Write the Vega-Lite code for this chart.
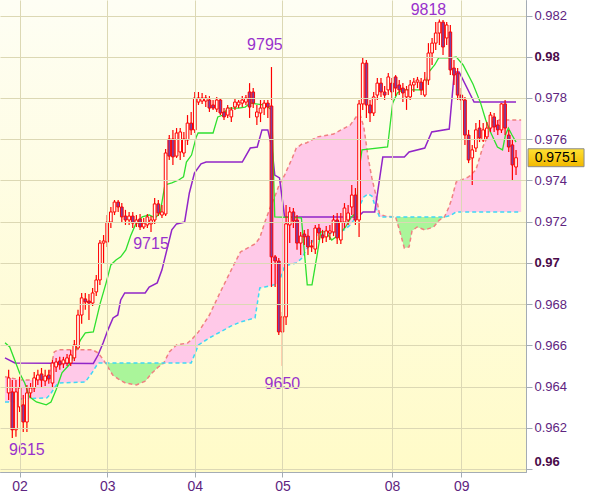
{
  "$schema": "https://vega.github.io/schema/vega-lite/v6.json",
  "width": 526,
  "height": 472,
  "autosize": {"type": "none"},
  "padding": {"left": 0, "top": 0, "right": 74, "bottom": 25},
  "background": "#ffffff",
  "config": {"view": {"stroke": "#a4acb4", "strokeWidth": 1}},
  "datasets": {
    "candles": [
      {"t":1,"o":0.96369,"h":0.96481,"l":0.96335,"c":0.96442},
      {"t":2,"o":0.96374,"h":0.96432,"l":0.96150,"c":0.96190},
      {"t":3,"o":0.96190,"h":0.96432,"l":0.96156,"c":0.96374},
      {"t":4,"o":0.96301,"h":0.96447,"l":0.96277,"c":0.96393},
      {"t":5,"o":0.96311,"h":0.96359,"l":0.96180,"c":0.96228},
      {"t":6,"o":0.96228,"h":0.96408,"l":0.96180,"c":0.96369},
      {"t":7,"o":0.96369,"h":0.96417,"l":0.96345,"c":0.96393},
      {"t":8,"o":0.96393,"h":0.96471,"l":0.96374,"c":0.96442},
      {"t":9,"o":0.96432,"h":0.96481,"l":0.96408,"c":0.96456},
      {"t":10,"o":0.96461,"h":0.96490,"l":0.96393,"c":0.96432},
      {"t":11,"o":0.96427,"h":0.96481,"l":0.96403,"c":0.96451},
      {"t":12,"o":0.96456,"h":0.96481,"l":0.96413,"c":0.96437},
      {"t":13,"o":0.96417,"h":0.96529,"l":0.96393,"c":0.96514},
      {"t":14,"o":0.96495,"h":0.96539,"l":0.96471,"c":0.96519},
      {"t":15,"o":0.96524,"h":0.96544,"l":0.96481,"c":0.96505},
      {"t":16,"o":0.96510,"h":0.96544,"l":0.96490,"c":0.96529},
      {"t":17,"o":0.96514,"h":0.96558,"l":0.96500,"c":0.96539},
      {"t":18,"o":0.96514,"h":0.96578,"l":0.96500,"c":0.96553},
      {"t":19,"o":0.96539,"h":0.96626,"l":0.96524,"c":0.96602},
      {"t":20,"o":0.96587,"h":0.96772,"l":0.96578,"c":0.96747},
      {"t":21,"o":0.96747,"h":0.96854,"l":0.96704,"c":0.96830},
      {"t":22,"o":0.96825,"h":0.96854,"l":0.96772,"c":0.96810},
      {"t":23,"o":0.96815,"h":0.96849,"l":0.96723,"c":0.96805},
      {"t":24,"o":0.96805,"h":0.96878,"l":0.96791,"c":0.96854},
      {"t":25,"o":0.96859,"h":0.96941,"l":0.96839,"c":0.96917},
      {"t":26,"o":0.96917,"h":0.97111,"l":0.96893,"c":0.97096},
      {"t":27,"o":0.97096,"h":0.97135,"l":0.96999,"c":0.97106},
      {"t":28,"o":0.97101,"h":0.97232,"l":0.97077,"c":0.97198},
      {"t":29,"o":0.97198,"h":0.97271,"l":0.97169,"c":0.97247},
      {"t":30,"o":0.97247,"h":0.97305,"l":0.97232,"c":0.97295},
      {"t":31,"o":0.97295,"h":0.97305,"l":0.97247,"c":0.97271},
      {"t":32,"o":0.97271,"h":0.97290,"l":0.97198,"c":0.97223},
      {"t":33,"o":0.97227,"h":0.97257,"l":0.97184,"c":0.97208},
      {"t":34,"o":0.97208,"h":0.97247,"l":0.97184,"c":0.97227},
      {"t":35,"o":0.97227,"h":0.97247,"l":0.97169,"c":0.97193},
      {"t":36,"o":0.97193,"h":0.97232,"l":0.97174,"c":0.97208},
      {"t":37,"o":0.97213,"h":0.97237,"l":0.97160,"c":0.97174},
      {"t":38,"o":0.97174,"h":0.97218,"l":0.97164,"c":0.97193},
      {"t":39,"o":0.97184,"h":0.97237,"l":0.97169,"c":0.97223},
      {"t":40,"o":0.97189,"h":0.97227,"l":0.97150,"c":0.97208},
      {"t":41,"o":0.97208,"h":0.97315,"l":0.97189,"c":0.97286},
      {"t":42,"o":0.97286,"h":0.97305,"l":0.97227,"c":0.97242},
      {"t":43,"o":0.97232,"h":0.97281,"l":0.97218,"c":0.97247},
      {"t":44,"o":0.97237,"h":0.97552,"l":0.97227,"c":0.97533},
      {"t":45,"o":0.97601,"h":0.97620,"l":0.97499,"c":0.97518},
      {"t":46,"o":0.97601,"h":0.97645,"l":0.97475,"c":0.97514},
      {"t":47,"o":0.97518,"h":0.97654,"l":0.97509,"c":0.97630},
      {"t":48,"o":0.97538,"h":0.97654,"l":0.97499,"c":0.97635},
      {"t":49,"o":0.97533,"h":0.97635,"l":0.97514,"c":0.97601},
      {"t":50,"o":0.97596,"h":0.97717,"l":0.97572,"c":0.97678},
      {"t":51,"o":0.97678,"h":0.97732,"l":0.97620,"c":0.97645},
      {"t":52,"o":0.97645,"h":0.97829,"l":0.97630,"c":0.97800},
      {"t":53,"o":0.97780,"h":0.97829,"l":0.97766,"c":0.97800},
      {"t":54,"o":0.97785,"h":0.97824,"l":0.97771,"c":0.97800},
      {"t":55,"o":0.97785,"h":0.97814,"l":0.97756,"c":0.97800},
      {"t":56,"o":0.97790,"h":0.97809,"l":0.97732,"c":0.97751},
      {"t":57,"o":0.97766,"h":0.97790,"l":0.97742,"c":0.97751},
      {"t":58,"o":0.97746,"h":0.97805,"l":0.97732,"c":0.97790},
      {"t":59,"o":0.97790,"h":0.97800,"l":0.97717,"c":0.97727},
      {"t":60,"o":0.97732,"h":0.97751,"l":0.97693,"c":0.97708},
      {"t":61,"o":0.97717,"h":0.97766,"l":0.97703,"c":0.97751},
      {"t":62,"o":0.97708,"h":0.97756,"l":0.97683,"c":0.97742},
      {"t":63,"o":0.97756,"h":0.97800,"l":0.97742,"c":0.97780},
      {"t":64,"o":0.97766,"h":0.97790,"l":0.97751,"c":0.97780},
      {"t":65,"o":0.97775,"h":0.97809,"l":0.97756,"c":0.97790},
      {"t":66,"o":0.97780,"h":0.97814,"l":0.97766,"c":0.97800},
      {"t":67,"o":0.97829,"h":0.97872,"l":0.97703,"c":0.97756},
      {"t":68,"o":0.97829,"h":0.97848,"l":0.97751,"c":0.97775},
      {"t":69,"o":0.97708,"h":0.97766,"l":0.97669,"c":0.97732},
      {"t":70,"o":0.97727,"h":0.97790,"l":0.97683,"c":0.97751},
      {"t":71,"o":0.97751,"h":0.97790,"l":0.97717,"c":0.97775},
      {"t":72,"o":0.97775,"h":0.97790,"l":0.97703,"c":0.97756},
      {"t":73,"o":0.97761,"h":0.97950,"l":0.96883,"c":0.97029},
      {"t":74,"o":0.97029,"h":0.97038,"l":0.96883,"c":0.97009},
      {"t":75,"o":0.97009,"h":0.97024,"l":0.96650,"c":0.96665},
      {"t":76,"o":0.96665,"h":0.96762,"l":0.96500,"c":0.96738},
      {"t":77,"o":0.96738,"h":0.97281,"l":0.96699,"c":0.97189},
      {"t":78,"o":0.97184,"h":0.97271,"l":0.97096,"c":0.97247},
      {"t":79,"o":0.97247,"h":0.97266,"l":0.97169,"c":0.97203},
      {"t":80,"o":0.97208,"h":0.97232,"l":0.97063,"c":0.97096},
      {"t":81,"o":0.97096,"h":0.97150,"l":0.97038,"c":0.97130},
      {"t":82,"o":0.97140,"h":0.97160,"l":0.97087,"c":0.97126},
      {"t":83,"o":0.97130,"h":0.97164,"l":0.97038,"c":0.97077},
      {"t":84,"o":0.97082,"h":0.97111,"l":0.97053,"c":0.97077},
      {"t":85,"o":0.97067,"h":0.97184,"l":0.97043,"c":0.97169},
      {"t":86,"o":0.97169,"h":0.97189,"l":0.97111,"c":0.97145},
      {"t":87,"o":0.97135,"h":0.97160,"l":0.97096,"c":0.97121},
      {"t":88,"o":0.97126,"h":0.97179,"l":0.97101,"c":0.97155},
      {"t":89,"o":0.97145,"h":0.97184,"l":0.97111,"c":0.97155},
      {"t":90,"o":0.97150,"h":0.97232,"l":0.97130,"c":0.97208},
      {"t":91,"o":0.97208,"h":0.97242,"l":0.97092,"c":0.97121},
      {"t":92,"o":0.97111,"h":0.97242,"l":0.97092,"c":0.97198},
      {"t":93,"o":0.97198,"h":0.97290,"l":0.97169,"c":0.97266},
      {"t":94,"o":0.97208,"h":0.97281,"l":0.97184,"c":0.97242},
      {"t":95,"o":0.97271,"h":0.97378,"l":0.97232,"c":0.97329},
      {"t":96,"o":0.97329,"h":0.97363,"l":0.97184,"c":0.97208},
      {"t":97,"o":0.97208,"h":0.97790,"l":0.97126,"c":0.97771},
      {"t":98,"o":0.97771,"h":0.97999,"l":0.97742,"c":0.97969},
      {"t":99,"o":0.97969,"h":0.97984,"l":0.97703,"c":0.97766},
      {"t":100,"o":0.97766,"h":0.97790,"l":0.97683,"c":0.97727},
      {"t":101,"o":0.97727,"h":0.97829,"l":0.97712,"c":0.97805},
      {"t":102,"o":0.97814,"h":0.97897,"l":0.97790,"c":0.97872},
      {"t":103,"o":0.97872,"h":0.97897,"l":0.97805,"c":0.97829},
      {"t":104,"o":0.97829,"h":0.97858,"l":0.97790,"c":0.97814},
      {"t":105,"o":0.97839,"h":0.97921,"l":0.97814,"c":0.97902},
      {"t":106,"o":0.97872,"h":0.97897,"l":0.97790,"c":0.97829},
      {"t":107,"o":0.97902,"h":0.97911,"l":0.97809,"c":0.97848},
      {"t":108,"o":0.97863,"h":0.97887,"l":0.97814,"c":0.97839},
      {"t":109,"o":0.97848,"h":0.97872,"l":0.97780,"c":0.97824},
      {"t":110,"o":0.97805,"h":0.97858,"l":0.97742,"c":0.97839},
      {"t":111,"o":0.97805,"h":0.97887,"l":0.97790,"c":0.97863},
      {"t":112,"o":0.97863,"h":0.97897,"l":0.97829,"c":0.97877},
      {"t":113,"o":0.97877,"h":0.97902,"l":0.97848,"c":0.97887},
      {"t":114,"o":0.97877,"h":0.97897,"l":0.97814,"c":0.97839},
      {"t":115,"o":0.97814,"h":0.97926,"l":0.97805,"c":0.97887},
      {"t":116,"o":0.97887,"h":0.98066,"l":0.97863,"c":0.98018},
      {"t":117,"o":0.98018,"h":0.98091,"l":0.97960,"c":0.98066},
      {"t":118,"o":0.98066,"h":0.98168,"l":0.98033,"c":0.98115},
      {"t":119,"o":0.98115,"h":0.98180,"l":0.98057,"c":0.98168},
      {"t":120,"o":0.98168,"h":0.98178,"l":0.98008,"c":0.98047},
      {"t":121,"o":0.98091,"h":0.98168,"l":0.98057,"c":0.98154},
      {"t":122,"o":0.98120,"h":0.98154,"l":0.97911,"c":0.97936},
      {"t":123,"o":0.97945,"h":0.97984,"l":0.97863,"c":0.97911},
      {"t":124,"o":0.97921,"h":0.97945,"l":0.97790,"c":0.97814},
      {"t":125,"o":0.97814,"h":0.97848,"l":0.97742,"c":0.97790},
      {"t":126,"o":0.97790,"h":0.97805,"l":0.97572,"c":0.97620},
      {"t":127,"o":0.97620,"h":0.97645,"l":0.97484,"c":0.97499},
      {"t":128,"o":0.97509,"h":0.97572,"l":0.97378,"c":0.97548},
      {"t":129,"o":0.97557,"h":0.97678,"l":0.97538,"c":0.97645},
      {"t":130,"o":0.97654,"h":0.97693,"l":0.97586,"c":0.97606},
      {"t":131,"o":0.97596,"h":0.97678,"l":0.97586,"c":0.97645},
      {"t":132,"o":0.97611,"h":0.97683,"l":0.97596,"c":0.97654},
      {"t":133,"o":0.97654,"h":0.97732,"l":0.97635,"c":0.97717},
      {"t":134,"o":0.97708,"h":0.97727,"l":0.97635,"c":0.97659},
      {"t":135,"o":0.97669,"h":0.97693,"l":0.97620,"c":0.97645},
      {"t":136,"o":0.97645,"h":0.97775,"l":0.97630,"c":0.97771},
      {"t":137,"o":0.97771,"h":0.97790,"l":0.97620,"c":0.97654},
      {"t":138,"o":0.97620,"h":0.97645,"l":0.97538,"c":0.97562},
      {"t":139,"o":0.97572,"h":0.97596,"l":0.97402,"c":0.97475},
      {"t":140,"o":0.97465,"h":0.97548,"l":0.97426,"c":0.97510}
    ],
    "cloud": [
      {"t":0,"a":0.96447,"b":0.96325},
      {"t":3,"a":0.96437,"b":0.96325},
      {"t":4.5,"a":0.96432,"b":0.96340},
      {"t":11.5,"a":0.96432,"b":0.96345},
      {"t":12.5,"a":0.96490,"b":0.96364},
      {"t":13.5,"a":0.96568,"b":0.96393},
      {"t":14.5,"a":0.96578,"b":0.96417},
      {"t":22,"a":0.96578,"b":0.96422},
      {"t":24,"a":0.96578,"b":0.96471},
      {"t":25.5,"a":0.96563,"b":0.96514},
      {"t":27,"a":0.96529,"b":0.96514},
      {"t":28,"a":0.96500,"b":0.96514},
      {"t":29.5,"a":0.96456,"b":0.96514},
      {"t":31,"a":0.96437,"b":0.96514},
      {"t":33,"a":0.96417,"b":0.96514},
      {"t":36,"a":0.96408,"b":0.96514},
      {"t":38.5,"a":0.96427,"b":0.96514},
      {"t":40,"a":0.96461,"b":0.96514},
      {"t":42,"a":0.96495,"b":0.96514},
      {"t":43.5,"a":0.96514,"b":0.96514},
      {"t":45,"a":0.96568,"b":0.96514},
      {"t":47,"a":0.96602,"b":0.96514},
      {"t":50,"a":0.96611,"b":0.96514},
      {"t":51,"a":0.96626,"b":0.96514},
      {"t":53,"a":0.96665,"b":0.96602},
      {"t":56,"a":0.96747,"b":0.96636},
      {"t":59,"a":0.96859,"b":0.96665},
      {"t":62,"a":0.96966,"b":0.96694},
      {"t":64.5,"a":0.97053,"b":0.96713},
      {"t":68.5,"a":0.97092,"b":0.96733},
      {"t":69.8,"a":0.97121,"b":0.96878},
      {"t":71.2,"a":0.97198,"b":0.96883},
      {"t":72.6,"a":0.97266,"b":0.96888},
      {"t":74.4,"a":0.97344,"b":0.96898},
      {"t":75,"a":0.97373,"b":0.96902},
      {"t":76.6,"a":0.97426,"b":0.96985},
      {"t":78.7,"a":0.97509,"b":0.96995},
      {"t":79.8,"a":0.97557,"b":0.96999},
      {"t":81.4,"a":0.97577,"b":0.97024},
      {"t":82.5,"a":0.97581,"b":0.97063},
      {"t":85.5,"a":0.97611,"b":0.97135},
      {"t":90,"a":0.97625,"b":0.97145},
      {"t":93,"a":0.97654,"b":0.97160},
      {"t":94.6,"a":0.97669,"b":0.97184},
      {"t":96.2,"a":0.97708,"b":0.97223},
      {"t":97.3,"a":0.97717,"b":0.97281},
      {"t":98.3,"a":0.97659,"b":0.97320},
      {"t":99.5,"a":0.97509,"b":0.97334},
      {"t":100.5,"a":0.97412,"b":0.97324},
      {"t":101.6,"a":0.97329,"b":0.97266},
      {"t":102.6,"a":0.97237,"b":0.97223},
      {"t":104,"a":0.97227,"b":0.97223},
      {"t":107,"a":0.97223,"b":0.97223},
      {"t":108.3,"a":0.97145,"b":0.97223},
      {"t":109.4,"a":0.97072,"b":0.97223},
      {"t":110.7,"a":0.97077,"b":0.97223},
      {"t":111.5,"a":0.97155,"b":0.97223},
      {"t":112.9,"a":0.97174,"b":0.97223},
      {"t":115,"a":0.97160,"b":0.97223},
      {"t":117.4,"a":0.97174,"b":0.97223},
      {"t":119,"a":0.97208,"b":0.97223},
      {"t":120.4,"a":0.97223,"b":0.97223},
      {"t":121.5,"a":0.97266,"b":0.97227},
      {"t":122.3,"a":0.97305,"b":0.97232},
      {"t":123.6,"a":0.97392,"b":0.97247},
      {"t":127,"a":0.97417,"b":0.97247},
      {"t":129,"a":0.97451,"b":0.97247},
      {"t":130.9,"a":0.97562,"b":0.97247},
      {"t":132.2,"a":0.97615,"b":0.97247},
      {"t":133,"a":0.97678,"b":0.97247},
      {"t":134.4,"a":0.97693,"b":0.97247},
      {"t":141.4,"a":0.97693,"b":0.97247}
    ],
    "green": [
      {"seg":1,"t":27.3,"a":0.96514,"b":0.96514},
      {"seg":1,"t":28,"a":0.96500,"b":0.96514},
      {"seg":1,"t":29.5,"a":0.96456,"b":0.96514},
      {"seg":1,"t":31,"a":0.96437,"b":0.96514},
      {"seg":1,"t":33,"a":0.96417,"b":0.96514},
      {"seg":1,"t":36,"a":0.96408,"b":0.96514},
      {"seg":1,"t":38.5,"a":0.96427,"b":0.96514},
      {"seg":1,"t":40,"a":0.96461,"b":0.96514},
      {"seg":1,"t":42,"a":0.96495,"b":0.96514},
      {"seg":1,"t":43.5,"a":0.96514,"b":0.96514},
      {"seg":2,"t":107,"a":0.97223,"b":0.97223},
      {"seg":2,"t":108.3,"a":0.97145,"b":0.97223},
      {"seg":2,"t":109.4,"a":0.97072,"b":0.97223},
      {"seg":2,"t":110.7,"a":0.97077,"b":0.97223},
      {"seg":2,"t":111.5,"a":0.97155,"b":0.97223},
      {"seg":2,"t":112.9,"a":0.97174,"b":0.97223},
      {"seg":2,"t":115,"a":0.97160,"b":0.97223},
      {"seg":2,"t":117.4,"a":0.97174,"b":0.97223},
      {"seg":2,"t":119,"a":0.97208,"b":0.97223},
      {"seg":2,"t":120.4,"a":0.97223,"b":0.97223}
    ],
    "tenkan": [
      {"t":0,"p":0.96612},{"t":1.3,"p":0.96592},{"t":4,"p":0.96466},{"t":5.4,"p":0.96417},{"t":6.7,"p":0.96350},
      {"t":8.6,"p":0.96325},{"t":11.3,"p":0.96311},{"t":12.6,"p":0.96325},{"t":14,"p":0.96384},{"t":15.6,"p":0.96466},
      {"t":18,"p":0.96514},{"t":19.3,"p":0.96578},{"t":20.7,"p":0.96626},{"t":22,"p":0.96660},{"t":24.2,"p":0.96665},
      {"t":26.1,"p":0.96805},{"t":27.7,"p":0.96903},{"t":29,"p":0.96990},{"t":30.4,"p":0.97014},{"t":31.7,"p":0.97029},
      {"t":33.1,"p":0.97063},{"t":34.4,"p":0.97130},{"t":35.7,"p":0.97184},{"t":37.6,"p":0.97223},{"t":39.5,"p":0.97232},
      {"t":41.1,"p":0.97218},{"t":42.5,"p":0.97242},{"t":43.8,"p":0.97378},{"t":45.7,"p":0.97388},{"t":47.6,"p":0.97402},
      {"t":48.9,"p":0.97417},{"t":49.7,"p":0.97489},{"t":51.1,"p":0.97523},{"t":52.4,"p":0.97611},{"t":52.9,"p":0.97630},
      {"t":57,"p":0.97630},{"t":58.3,"p":0.97708},{"t":59.7,"p":0.97717},{"t":61,"p":0.97751},{"t":64,"p":0.97751},
      {"t":65.8,"p":0.97756},{"t":67.2,"p":0.97775},{"t":70.7,"p":0.97766},{"t":72,"p":0.97756},{"t":73.1,"p":0.97742},
      {"t":73.9,"p":0.97223},{"t":81.2,"p":0.97218},{"t":82.8,"p":0.96893},{"t":84.1,"p":0.96893},{"t":85.5,"p":0.97038},
      {"t":86.5,"p":0.97150},{"t":87.9,"p":0.97150},{"t":89.5,"p":0.97111},{"t":91.4,"p":0.97135},{"t":93.3,"p":0.97174},
      {"t":94.9,"p":0.97223},{"t":96.2,"p":0.97242},{"t":97,"p":0.97451},{"t":97.8,"p":0.97548},{"t":104.8,"p":0.97562},
      {"t":106.2,"p":0.97775},{"t":107.5,"p":0.97824},{"t":108.8,"p":0.97839},{"t":114.8,"p":0.97839},{"t":116.1,"p":0.97926},
      {"t":117.7,"p":0.97960},{"t":118.8,"p":0.97994},{"t":122.3,"p":0.97994},{"t":123.6,"p":0.97999},{"t":125.5,"p":0.97960},
      {"t":128.2,"p":0.97868},{"t":130.3,"p":0.97775},{"t":131.7,"p":0.97693},{"t":133,"p":0.97635},{"t":134.9,"p":0.97562},
      {"t":136.3,"p":0.97548},{"t":137.1,"p":0.97620},{"t":137.9,"p":0.97654},{"t":138.9,"p":0.97620},{"t":140,"p":0.97586}
    ],
    "kijun": [
      {"t":0,"p":0.96539},{"t":2.7,"p":0.96514},{"t":24.2,"p":0.96512},{"t":25.5,"p":0.96553},{"t":26.9,"p":0.96612},
      {"t":28.2,"p":0.96675},{"t":29.6,"p":0.96733},{"t":30.9,"p":0.96747},{"t":31.7,"p":0.96820},{"t":32.8,"p":0.96854},
      {"t":38.4,"p":0.96854},{"t":39.5,"p":0.96883},{"t":41.7,"p":0.96903},{"t":43,"p":0.96966},{"t":43.8,"p":0.97024},
      {"t":45.7,"p":0.97160},{"t":47,"p":0.97189},{"t":49.2,"p":0.97198},{"t":50.5,"p":0.97339},{"t":51.9,"p":0.97436},
      {"t":53.7,"p":0.97480},{"t":55.1,"p":0.97489},{"t":65,"p":0.97489},{"t":67.2,"p":0.97557},{"t":69.1,"p":0.97562},
      {"t":70.4,"p":0.97645},{"t":72,"p":0.97645},{"t":73.1,"p":0.97562},{"t":73.9,"p":0.97426},{"t":75.2,"p":0.97412},
      {"t":76.6,"p":0.97223},{"t":96.7,"p":0.97223},{"t":98.1,"p":0.97247},{"t":101.3,"p":0.97247},{"t":102.1,"p":0.97344},
      {"t":103.5,"p":0.97514},{"t":109.4,"p":0.97514},{"t":110.7,"p":0.97538},{"t":115,"p":0.97557},{"t":116.9,"p":0.97635},
      {"t":121.7,"p":0.97649},{"t":123.1,"p":0.97926},{"t":124.4,"p":0.97926},{"t":128.5,"p":0.97780},{"t":140,"p":0.97780}
    ],
    "labels": [
      {"t":116,"p":0.98227,"label":"9818"},
      {"t":71.2,"p":0.98057,"label":"9795"},
      {"t":40,"p":0.97092,"label":"9715"},
      {"t":76,"p":0.96413,"label":"9650"},
      {"t":6,"p":0.96093,"label":"9615"}
    ],
    "last": [{"t":140,"p":0.9751,"label":"0.9751"}]
  },
  "layer": [
    {
      "data": {"values": [{}]},
      "mark": {"type": "rect", "color": {"gradient": "linear", "x1": 0, "y1": 0, "x2": 0, "y2": 1, "stops": [{"offset": 0, "color": "#fefef4"}, {"offset": 1, "color": "#fffbc8"}]}},
      "encoding": {}
    },
    {
      "data": {"name": "cloud"},
      "mark": {"type": "area", "color": "#ffc9e8", "opacity": 1, "clip": true},
      "encoding": {
        "x": {"field": "t", "type": "quantitative", "title": null,
          "scale": {"domain": [0, 141.36], "nice": false, "zero": false},
          "axis": {"orient": "bottom", "values": [4, 28, 52, 76, 106, 125], "zindex": 1,
            "labelExpr": "datum.value==4?'02':datum.value==28?'03':datum.value==52?'04':datum.value==76?'05':datum.value==106?'08':'09'",
            "grid": true, "gridColor": "#dcd8b4", "gridWidth": 1, "tickSize": 5, "tickColor": "#a4acb4", "domainColor": "#a4acb4",
            "labelColor": "#5e2480", "labelFont": "Liberation Sans", "labelFontSize": 14, "labelPadding": 2,
            "labelFlush": false, "labelOverlap": false}},
        "y": {"field": "a", "type": "quantitative", "title": null,
          "scale": {"domain": [0.959854, 0.982752], "nice": false, "zero": false},
          "axis": {"orient": "right", "zindex": 1,
            "values": [0.96,0.961,0.962,0.963,0.964,0.965,0.966,0.967,0.968,0.969,0.97,0.971,0.972,0.973,0.974,0.975,0.976,0.977,0.978,0.979,0.98,0.981,0.982],
            "grid": true, "gridColor": "#dcd8b4",
            "gridOpacity": {"condition": {"test": "round(datum.value*1000)%2==0", "value": 1}, "value": 0},
            "tickSize": {"condition": {"test": "round(datum.value*1000)%2==0", "value": 6}, "value": 3},
            "tickColor": "#a4acb4", "domainColor": "#a4acb4",
            "labelExpr": "round(datum.value*1000)%2==0 ? format(datum.value, '.3~f') : ''",
            "labelFont": "Liberation Sans", "labelFontSize": 13, "labelPadding": 2,
            "labelColor": {"condition": {"test": "round(datum.value*1000)%10==0", "value": "#4a0a4a"}, "value": "#5e2480"},
            "labelFontWeight": {"condition": {"test": "round(datum.value*1000)%10==0", "value": "bold"}, "value": "normal"},
            "labelBaseline": {"condition": {"test": "datum.value < 0.9605", "value": "bottom"}, "value": "middle"},
            "labelOverlap": false, "labelFlush": false}},
        "y2": {"field": "b"}
      }
    },
    {
      "data": {"name": "green"},
      "mark": {"type": "area", "color": "#aaf59a", "opacity": 1, "clip": true},
      "encoding": {
        "x": {"field": "t", "type": "quantitative", "title": null},
        "y": {"field": "a", "type": "quantitative", "title": null},
        "y2": {"field": "b"},
        "detail": {"field": "seg", "type": "nominal"}
      }
    },
    {
      "data": {"name": "cloud"},
      "mark": {"type": "line", "color": "#f08080", "strokeDash": [4, 3], "strokeWidth": 1.5, "clip": true},
      "encoding": {
        "x": {"field": "t", "type": "quantitative", "title": null},
        "y": {"field": "a", "type": "quantitative", "title": null}
      }
    },
    {
      "data": {"name": "cloud"},
      "mark": {"type": "line", "color": "#3fd8f5", "strokeDash": [4, 3], "strokeWidth": 1.5, "clip": true},
      "encoding": {
        "x": {"field": "t", "type": "quantitative", "title": null},
        "y": {"field": "b", "type": "quantitative", "title": null}
      }
    },
    {
      "data": {"name": "kijun"},
      "mark": {"type": "line", "color": "#9125c8", "strokeWidth": 1.5, "clip": true},
      "encoding": {
        "x": {"field": "t", "type": "quantitative", "title": null},
        "y": {"field": "p", "type": "quantitative", "title": null}
      }
    },
    {
      "data": {"name": "tenkan"},
      "mark": {"type": "line", "color": "#2ee02e", "strokeWidth": 1.3, "clip": true},
      "encoding": {
        "x": {"field": "t", "type": "quantitative", "title": null},
        "y": {"field": "p", "type": "quantitative", "title": null}
      }
    },
    {
      "data": {"name": "candles"},
      "mark": {"type": "rule", "color": "#ff0000", "strokeWidth": 1.2, "clip": true},
      "encoding": {
        "x": {"field": "t", "type": "quantitative", "title": null},
        "y": {"field": "h", "type": "quantitative", "title": null},
        "y2": {"field": "l"}
      }
    },
    {
      "data": {"name": "candles"},
      "mark": {"type": "bar", "size": 2.7, "stroke": "#ff0000", "strokeWidth": 1, "clip": true},
      "encoding": {
        "x": {"field": "t", "type": "quantitative", "title": null},
        "y": {"field": "o", "type": "quantitative", "title": null},
        "y2": {"field": "c"},
        "fill": {"condition": {"test": "datum.c < datum.o", "value": "#7f3f9f"}, "value": "#fffff5"}
      }
    },
    {
      "data": {"name": "labels"},
      "mark": {"type": "text", "font": "Liberation Sans", "fontSize": 16, "color": "#9932cc", "align": "center", "baseline": "middle"},
      "encoding": {
        "x": {"field": "t", "type": "quantitative", "title": null},
        "y": {"field": "p", "type": "quantitative", "title": null},
        "text": {"field": "label"}
      }
    },
    {
      "data": {"name": "last"},
      "mark": {"type": "point", "shape": "M-1,-0.32L1,-0.32L1,0.32L-1,0.32Z", "size": 3136, "filled": true, "opacity": 1,
        "fill": {"gradient": "linear", "x1": 0, "y1": 0, "x2": 0, "y2": 1, "stops": [{"offset": 0, "color": "#ffe033"}, {"offset": 1, "color": "#f2b900"}]},
        "stroke": "#8c8c8c", "strokeWidth": 1, "xOffset": 40},
      "encoding": {
        "x": {"field": "t", "type": "quantitative", "title": null},
        "y": {"field": "p", "type": "quantitative", "title": null}
      }
    },
    {
      "data": {"name": "last"},
      "mark": {"type": "text", "font": "Liberation Sans", "fontSize": 14, "color": "#000000", "align": "center", "baseline": "middle", "xOffset": 40},
      "encoding": {
        "x": {"field": "t", "type": "quantitative", "title": null},
        "y": {"field": "p", "type": "quantitative", "title": null},
        "text": {"field": "label"}
      }
    }
  ]
}
